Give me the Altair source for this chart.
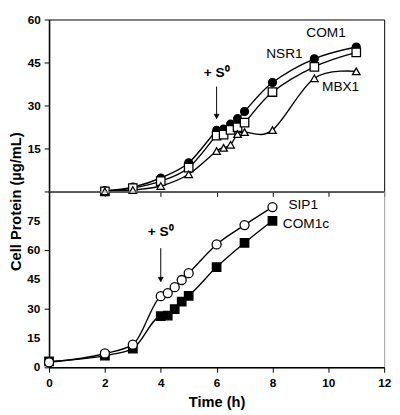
import altair as alt
import pandas as pd

# ---- data ----
top_time = [2, 3, 4, 5, 6, 6.25, 6.5, 6.75, 7, 8, 9.5, 11]
com1 = [0.3, 1.5, 4.7, 10.0, 21.3, 21.8, 23.5, 25.4, 27.9, 38.0, 46.3, 50.4]
nsr1 = [0.0, 1.2, 3.6, 8.3, 19.5, 19.8, 21.5, 22.4, 24.0, 34.7, 43.5, 48.5]
mbx1 = [0.0, 0.5, 1.9, 6.0, 14.1, 15.2, 16.3, 20.0, 20.7, 21.4, 39.5, 41.9]

bottom_time = [0, 2, 3, 4, 4.25, 4.5, 4.75, 5, 6, 7, 8]
sip1 = [2.6, 7.1, 11.6, 36.4, 38.0, 41.0, 44.7, 48.2, 62.9, 72.8, 82.0]
com1c = [3.0, 6.0, 9.6, 26.2, 26.5, 29.8, 33.6, 36.6, 51.3, 63.7, 75.0]

x_ticks = [0, 2, 4, 6, 8, 10, 12]
top_y_ticks = [0, 15, 30, 45, 60]
bottom_y_ticks = [0, 15, 30, 45, 60, 75]

# annotation text and anchor positions (data units)
top_labels = ["COM1", "NSR1", "MBX1"]
top_label_t = [9.92, 8.43, 10.44]
top_label_v = [55.3, 48.0, 36.4]
bottom_labels = ["SIP1", "COM1c"]
bottom_label_t = [9.1, 9.2]
bottom_label_v = [82.9, 73.5]
top_s_t, top_s_v = [6.0], [41.4]
top_arrow_t, top_arrow_v1, top_arrow_v2 = [6.0], [36.6], [25.5]
bot_s_t, bot_s_v = [4.0], [69.0]
bot_arrow_t, bot_arrow_v1, bot_arrow_v2 = [4.0], [61.0], [44.0]

FONT = "Liberation Sans"
W = 343
H_TOP = 176
H_BOT = 180


def series_layers(t, v, shape, filled, size, xs, ys, interp):
    df = pd.DataFrame({"t": t, "v": v})
    base = alt.Chart(df).encode(x=alt.X("t:Q", scale=xs), y=alt.Y("v:Q", scale=ys))
    line = base.mark_line(color="black", strokeWidth=1.4, interpolate=interp)
    pts = base.mark_point(
        shape=shape, filled=True, size=size,
        fill="black" if filled else "white", stroke="black", strokeWidth=1.3, opacity=1,
    )
    return line, pts


def text_layer(labels, ts, vs, xs, ys, bold=False, size=14):
    df = pd.DataFrame({"label": labels, "t": ts, "v": vs})
    return alt.Chart(df).mark_text(
        font=FONT, fontSize=size, fontWeight="bold" if bold else "normal",
        color="black", align="center", baseline="middle",
    ).encode(x=alt.X("t:Q", scale=xs), y=alt.Y("v:Q", scale=ys), text="label:N")


def arrow_layer(ts, v1, v2, xs, ys):
    df = pd.DataFrame({"t": ts, "v1": v1, "v2": v2})
    rule = alt.Chart(df).mark_rule(color="black", strokeWidth=1).encode(
        x=alt.X("t:Q", scale=xs), y=alt.Y("v1:Q", scale=ys), y2="v2:Q")
    head = alt.Chart(df).mark_point(
        shape="triangle-down", filled=True, fill="black", stroke="black",
        strokeWidth=0.5, size=28, opacity=1, yOffset=-2,
    ).encode(x=alt.X("t:Q", scale=xs), y=alt.Y("v2:Q", scale=ys))
    return rule, head


# ---- top panel ----
xs = alt.Scale(domain=[0, 12], nice=False, zero=False)
ys_top = alt.Scale(domain=[0, 60], nice=False)

l1, p1 = series_layers(top_time, com1, "circle", True, 65, xs, ys_top, "cardinal")
l2, p2 = series_layers(top_time, nsr1, "square", False, 75, xs, ys_top, "cardinal")
l3, p3 = series_layers(top_time, mbx1, "triangle-up", False, 60, xs, ys_top, "cardinal")

top_axes = alt.Chart(pd.DataFrame({"t": [0], "v": [0]})).mark_point(opacity=0).encode(
    x=alt.X("t:Q", scale=xs, axis=alt.Axis(
        values=x_ticks, labels=False, title=None, grid=False, ticks=True,
        tickSize=5, tickColor="black", domainColor="black", domainWidth=1.6)),
    y=alt.Y("v:Q", scale=ys_top, axis=alt.Axis(
        values=top_y_ticks, labelExpr="datum.value == 0 ? '' : datum.label",
        title="Cell Protein (\u00b5g/mL)", titleY=H_TOP + 10, titlePadding=4,
        grid=False, tickSize=5, tickColor="black", labelOverlap=False,
        domainColor="black", domainWidth=1.6, labelPadding=4)),
)

ta1, ta2 = arrow_layer(top_arrow_t, top_arrow_v1, top_arrow_v2, xs, ys_top)
top = alt.layer(
    top_axes, l1, l2, l3, p1, p2, p3,
    text_layer(top_labels, top_label_t, top_label_v, xs, ys_top),
    text_layer(["+ S\u2070"], top_s_t, top_s_v, xs, ys_top, bold=True, size=14),
    ta1, ta2,
).properties(width=W, height=H_TOP, view=alt.ViewBackground(stroke="black", strokeWidth=1))

# ---- bottom panel ----
ys_bot = alt.Scale(domain=[0, 90], nice=False)
l4, p4 = series_layers(bottom_time, sip1, "circle", False, 85, xs, ys_bot, "monotone")
l5, p5 = series_layers(bottom_time, com1c, "square", True, 75, xs, ys_bot, "monotone")

bot_axes = alt.Chart(pd.DataFrame({"t": [0], "v": [0]})).mark_point(opacity=0).encode(
    x=alt.X("t:Q", scale=xs, axis=alt.Axis(
        values=x_ticks, title="Time (h)", grid=False, tickSize=5, tickColor="black",
        domainColor="black", domainWidth=1.6, labelPadding=6, titlePadding=6,
        labelFlush=False, labelOverlap=False)),
    y=alt.Y("v:Q", scale=ys_bot, axis=alt.Axis(
        values=bottom_y_ticks, labels=False, title=None, grid=False, tickSize=5,
        tickColor="black", domainColor="black", domainWidth=1.6)),
)

# y tick labels of the bottom panel, placed through the scales
bot_tick_df = pd.DataFrame({"t": [0] * len(bottom_y_ticks), "v": bottom_y_ticks,
                            "label": [str(v) for v in bottom_y_ticks]})
bot_tick_labels = alt.Chart(bot_tick_df).mark_text(
    font=FONT, fontSize=12, fontWeight="bold", color="black",
    align="right", baseline="middle", dx=-9,
).encode(x=alt.X("t:Q", scale=xs), y=alt.Y("v:Q", scale=ys_bot), text="label:N")

ba1, ba2 = arrow_layer(bot_arrow_t, bot_arrow_v1, bot_arrow_v2, xs, ys_bot)
bottom = alt.layer(
    bot_axes, l5, l4, p5, p4,
    text_layer(bottom_labels, bottom_label_t, bottom_label_v, xs, ys_bot),
    text_layer(["+ S\u2070"], bot_s_t, bot_s_v, xs, ys_bot, bold=True, size=14),
    ba1, ba2, bot_tick_labels,
).properties(width=W, height=H_BOT, view=alt.ViewBackground(stroke="#9a9a9a", strokeWidth=1))

chart = alt.vconcat(top, bottom, spacing=0, bounds="flush").properties(
    padding=0, background="white"
).configure_axis(
    labelFont=FONT, labelFontSize=12, labelFontWeight="bold", labelColor="black",
    titleFont=FONT, titleFontSize=15, titleFontWeight="bold", titleColor="black",
    labelOverlap=False,
).configure_view(stroke=None)

chart.save("out.html", embed_options={"renderer": "svg", "actions": False})
